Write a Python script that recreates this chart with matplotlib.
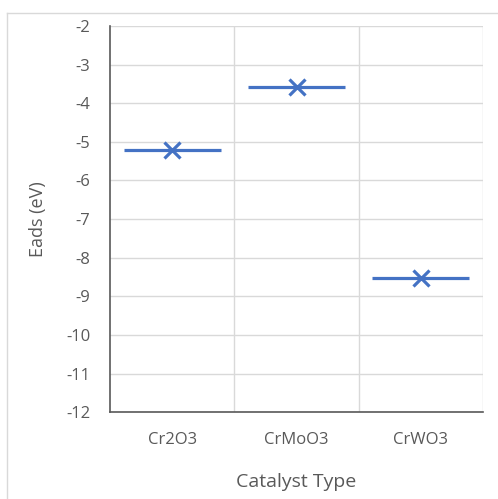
import matplotlib
matplotlib.use("Agg")
import matplotlib.pyplot as plt
from matplotlib.lines import Line2D

# data
catalysts = ["Cr2O3", "CrMoO3", "CrWO3"]
eads = [-5.22, -3.57, -8.53]

plt.rcParams['font.family'] = ['Open Sans', 'DejaVu Sans']
plt.rcParams['axes.unicode_minus'] = False

fig = plt.figure(figsize=(4.98, 4.99), dpi=100)
ax = fig.add_axes([0.221, 0.174, 0.749, 0.774])

blue = "#4472C4"
xs = list(range(1, len(catalysts) + 1))
ax.hlines(eads, [x - 0.39 for x in xs], [x + 0.39 for x in xs], color=blue, lw=2.3, zorder=3)
ax.plot(xs, eads, linestyle="none", marker="x", markersize=11, mew=2.3, color=blue, zorder=4)

ax.set_xlim(0.5, 3.5)
ax.set_ylim(-12, -2)
ax.set_yticks(range(-12, -1))
ax.set_xticks(xs)
ax.set_xticklabels(catalysts)
ax.set_xticks([1.5, 2.5, 3.5], minor=True)

ax.grid(True, axis="y", color="#D9D9D9", lw=1)
ax.grid(True, axis="x", which="minor", color="#D9D9D9", lw=1)
ax.set_axisbelow(True)
for s in ["top", "right"]:
    ax.spines[s].set_visible(False)
ax.spines["left"].set_color("#595959")
ax.spines["bottom"].set_color("#595959")
ax.spines["left"].set_linewidth(1.2)
ax.spines["bottom"].set_linewidth(1.2)

ax.tick_params(axis="both", which="both", length=0, colors="#595959", labelsize=12)
ax.tick_params(axis="y", pad=14)
ax.tick_params(axis="x", pad=14)
ax.set_ylabel("Eads (eV)", color="#595959", fontsize=13, labelpad=14)
ax.set_xlabel("Catalyst Type", color="#595959", fontsize=14, labelpad=18)

# outer chart frame (partly cropped)
fig.add_artist(Line2D([7 / 498, 7 / 498], [0, 1 - 13 / 499], transform=fig.transFigure, color="#D9D9D9", lw=1))
fig.add_artist(Line2D([7 / 498, 1], [1 - 13 / 499, 1 - 13 / 499], transform=fig.transFigure, color="#D9D9D9", lw=1))

fig.savefig("out.png", dpi=100)
